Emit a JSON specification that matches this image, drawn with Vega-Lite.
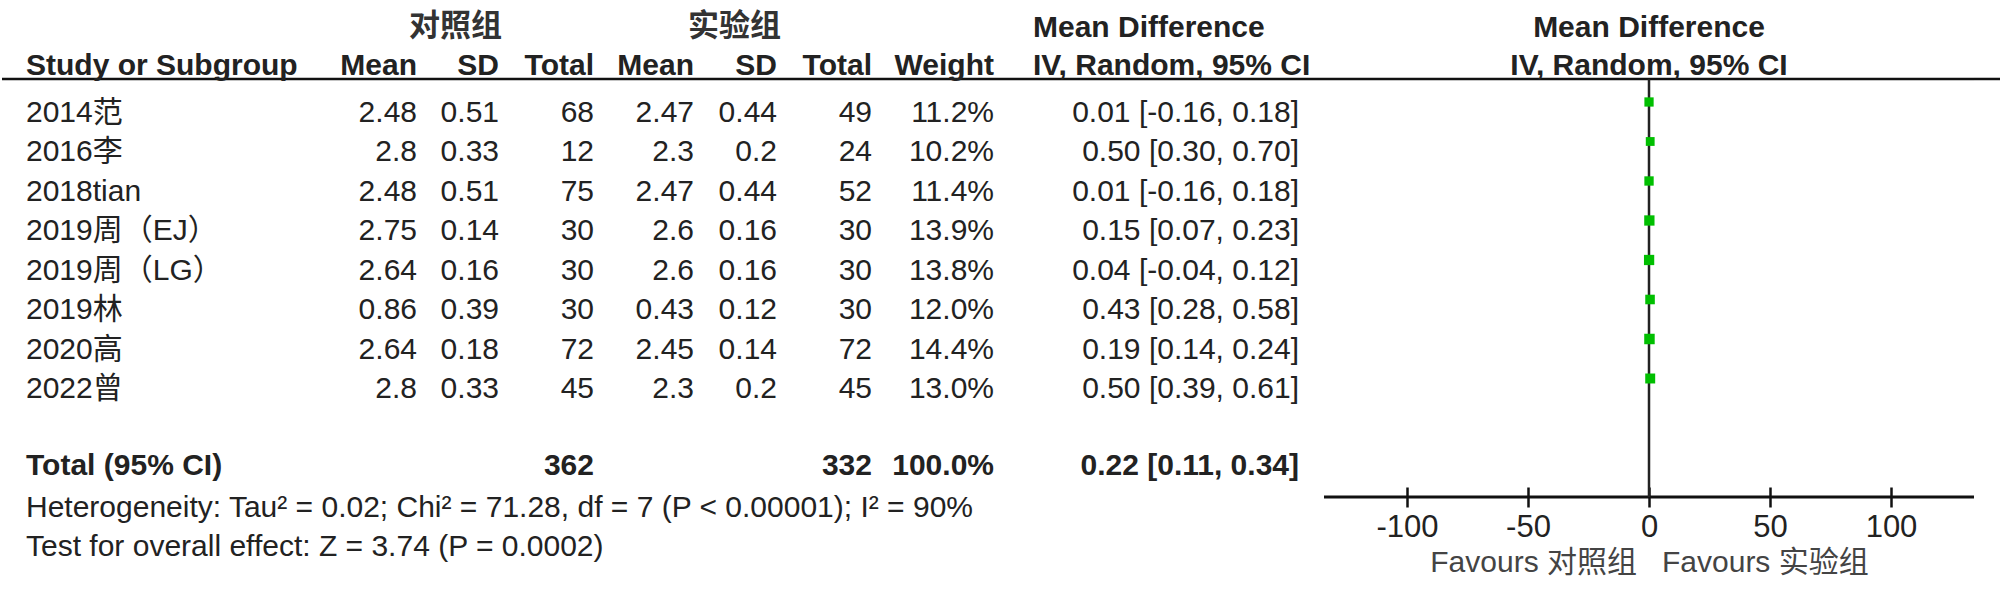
{
  "$schema": "https://vega.github.io/schema/vega-lite/v6.json",
  "padding": 0,
  "spacing": 0,
  "bounds": "flush",
  "background": "white",
  "resolve": {"scale": {"x": "independent", "y": "independent"}},
  "config": {
    "view": {"stroke": null},
    "text": {"font": "Liberation Sans, Noto Sans CJK SC", "fontSize": 30, "color": "#222", "baseline": "middle"}
  },
  "datasets": {
    "studies": [
      {"Study": "2014范", "M1": 2.48, "SD1": 0.51, "N1": 68, "M2": 2.47, "SD2": 0.44, "N2": 49, "W": 11.2, "Weight": "11.2%", "MD": 0.01, "lo": -0.16, "hi": 0.18, "CI": "0.01 [-0.16, 0.18]"},
      {"Study": "2016李", "M1": 2.8, "SD1": 0.33, "N1": 12, "M2": 2.3, "SD2": 0.2, "N2": 24, "W": 10.2, "Weight": "10.2%", "MD": 0.5, "lo": 0.3, "hi": 0.7, "CI": "0.50 [0.30, 0.70]"},
      {"Study": "2018tian", "M1": 2.48, "SD1": 0.51, "N1": 75, "M2": 2.47, "SD2": 0.44, "N2": 52, "W": 11.4, "Weight": "11.4%", "MD": 0.01, "lo": -0.16, "hi": 0.18, "CI": "0.01 [-0.16, 0.18]"},
      {"Study": "2019周（EJ）", "M1": 2.75, "SD1": 0.14, "N1": 30, "M2": 2.6, "SD2": 0.16, "N2": 30, "W": 13.9, "Weight": "13.9%", "MD": 0.15, "lo": 0.07, "hi": 0.23, "CI": "0.15 [0.07, 0.23]"},
      {"Study": "2019周（LG）", "M1": 2.64, "SD1": 0.16, "N1": 30, "M2": 2.6, "SD2": 0.16, "N2": 30, "W": 13.8, "Weight": "13.8%", "MD": 0.04, "lo": -0.04, "hi": 0.12, "CI": "0.04 [-0.04, 0.12]"},
      {"Study": "2019林", "M1": 0.86, "SD1": 0.39, "N1": 30, "M2": 0.43, "SD2": 0.12, "N2": 30, "W": 12.0, "Weight": "12.0%", "MD": 0.43, "lo": 0.28, "hi": 0.58, "CI": "0.43 [0.28, 0.58]"},
      {"Study": "2020高", "M1": 2.64, "SD1": 0.18, "N1": 72, "M2": 2.45, "SD2": 0.14, "N2": 72, "W": 14.4, "Weight": "14.4%", "MD": 0.19, "lo": 0.14, "hi": 0.24, "CI": "0.19 [0.14, 0.24]"},
      {"Study": "2022曾", "M1": 2.8, "SD1": 0.33, "N1": 45, "M2": 2.3, "SD2": 0.2, "N2": 45, "W": 13.0, "Weight": "13.0%", "MD": 0.5, "lo": 0.39, "hi": 0.61, "CI": "0.50 [0.39, 0.61]"}
    ],
    "total": [
      {"label": "Total (95% CI)", "N1": 362, "N2": 332, "Weight": "100.0%", "MD": 0.22, "lo": 0.11, "hi": 0.34, "CI": "0.22 [0.11, 0.34]"}
    ]
  },
  "hconcat": [
    {
      "width": 330, "height": 596,
      "layer": [
        {"data": {"values": [{}]}, "mark": {"type": "rule", "strokeWidth": 2.5, "color": "#111"},
         "encoding": {"y": {"datum": 0.2025, "type": "quantitative", "scale": {"domain": [-1.797, 13.291], "reverse": true, "nice": false, "zero": false}, "axis": null}}},
        {"data": {"values": [{"t": "Study or Subgroup"}]}, "mark": {"type": "text", "align": "left", "dx": 24, "dy": -5, "fontWeight": "bold"},
         "encoding": {"x": {"value": 0}, "y": {"datum": 0, "type": "quantitative", "scale": {"domain": [-1.797, 13.291], "reverse": true, "nice": false, "zero": false}, "axis": null}, "text": {"field": "t", "type": "nominal"}}},
        {"data": {"name": "studies"}, "transform": [{"window": [{"op": "row_number", "as": "row"}]}], "mark": {"type": "text", "align": "left", "dx": 24, "dy": 2.5},
         "encoding": {"x": {"value": 0}, "y": {"field": "row", "type": "quantitative", "scale": {"domain": [-1.797, 13.291], "reverse": true, "nice": false, "zero": false}, "axis": null}, "text": {"field": "Study", "type": "nominal"}}},
        {"data": {"name": "total"}, "mark": {"type": "text", "align": "left", "dx": 24, "fontWeight": "bold"},
         "encoding": {"x": {"value": 0}, "y": {"datum": 10, "type": "quantitative", "scale": {"domain": [-1.797, 13.291], "reverse": true, "nice": false, "zero": false}, "axis": null}, "text": {"field": "label", "type": "nominal"}}},
        {"data": {"values": [{"t": "Heterogeneity: Tau² = 0.02; Chi² = 71.28, df = 7 (P < 0.00001); I² = 90%"}]}, "mark": {"type": "text", "align": "left", "dx": 24, "dy": 2},
         "encoding": {"x": {"value": 0}, "y": {"datum": 11, "type": "quantitative", "scale": {"domain": [-1.797, 13.291], "reverse": true, "nice": false, "zero": false}, "axis": null}, "text": {"field": "t", "type": "nominal"}}},
        {"data": {"values": [{"t": "Test for overall effect: Z = 3.74 (P = 0.0002)"}]}, "mark": {"type": "text", "align": "left", "dx": 24, "dy": 1.5},
         "encoding": {"x": {"value": 0}, "y": {"datum": 12, "type": "quantitative", "scale": {"domain": [-1.797, 13.291], "reverse": true, "nice": false, "zero": false}, "axis": null}, "text": {"field": "t", "type": "nominal"}}}
      ]
    },
    {
      "width": 85, "height": 596,
      "layer": [
        {"data": {"values": [{}]}, "mark": {"type": "rule", "strokeWidth": 2.5, "color": "#111"},
         "encoding": {"y": {"datum": 0.2025, "type": "quantitative", "scale": {"domain": [-1.797, 13.291], "reverse": true, "nice": false, "zero": false}, "axis": null}}},
        {"data": {"values": [{"t": "Mean"}]}, "mark": {"type": "text", "align": "right", "dy": -5, "fontWeight": "bold"},
         "encoding": {"x": {"value": "width"}, "y": {"datum": 0, "type": "quantitative", "scale": {"domain": [-1.797, 13.291], "reverse": true, "nice": false, "zero": false}, "axis": null}, "text": {"field": "t", "type": "nominal"}}},
        {"data": {"name": "studies"}, "transform": [{"window": [{"op": "row_number", "as": "row"}]}], "mark": {"type": "text", "align": "right", "dy": 2.5},
         "encoding": {"x": {"value": "width"}, "y": {"field": "row", "type": "quantitative", "scale": {"domain": [-1.797, 13.291], "reverse": true, "nice": false, "zero": false}, "axis": null}, "text": {"field": "M1", "type": "nominal"}}}
      ]
    },
    {
      "width": 82, "height": 596,
      "layer": [
        {"data": {"values": [{}]}, "mark": {"type": "rule", "strokeWidth": 2.5, "color": "#111"},
         "encoding": {"y": {"datum": 0.2025, "type": "quantitative", "scale": {"domain": [-1.797, 13.291], "reverse": true, "nice": false, "zero": false}, "axis": null}}},
        {"data": {"values": [{"t": "对照组"}]}, "mark": {"type": "text", "align": "right", "dx": 3, "dy": -4, "fontWeight": "bold", "font": "Noto Sans CJK SC", "fontSize": 31, "color": "#333"},
         "encoding": {"x": {"value": "width"}, "y": {"datum": -1, "type": "quantitative", "scale": {"domain": [-1.797, 13.291], "reverse": true, "nice": false, "zero": false}, "axis": null}, "text": {"field": "t", "type": "nominal"}}},
        {"data": {"values": [{"t": "SD"}]}, "mark": {"type": "text", "align": "right", "dy": -5, "fontWeight": "bold"},
         "encoding": {"x": {"value": "width"}, "y": {"datum": 0, "type": "quantitative", "scale": {"domain": [-1.797, 13.291], "reverse": true, "nice": false, "zero": false}, "axis": null}, "text": {"field": "t", "type": "nominal"}}},
        {"data": {"name": "studies"}, "transform": [{"window": [{"op": "row_number", "as": "row"}]}], "mark": {"type": "text", "align": "right", "dy": 2.5},
         "encoding": {"x": {"value": "width"}, "y": {"field": "row", "type": "quantitative", "scale": {"domain": [-1.797, 13.291], "reverse": true, "nice": false, "zero": false}, "axis": null}, "text": {"field": "SD1", "type": "nominal"}}}
      ]
    },
    {
      "width": 95, "height": 596,
      "layer": [
        {"data": {"values": [{}]}, "mark": {"type": "rule", "strokeWidth": 2.5, "color": "#111"},
         "encoding": {"y": {"datum": 0.2025, "type": "quantitative", "scale": {"domain": [-1.797, 13.291], "reverse": true, "nice": false, "zero": false}, "axis": null}}},
        {"data": {"values": [{"t": "Total"}]}, "mark": {"type": "text", "align": "right", "dy": -5, "fontWeight": "bold"},
         "encoding": {"x": {"value": "width"}, "y": {"datum": 0, "type": "quantitative", "scale": {"domain": [-1.797, 13.291], "reverse": true, "nice": false, "zero": false}, "axis": null}, "text": {"field": "t", "type": "nominal"}}},
        {"data": {"name": "studies"}, "transform": [{"window": [{"op": "row_number", "as": "row"}]}], "mark": {"type": "text", "align": "right", "dy": 2.5},
         "encoding": {"x": {"value": "width"}, "y": {"field": "row", "type": "quantitative", "scale": {"domain": [-1.797, 13.291], "reverse": true, "nice": false, "zero": false}, "axis": null}, "text": {"field": "N1", "type": "nominal"}}},
        {"data": {"name": "total"}, "mark": {"type": "text", "align": "right", "fontWeight": "bold"},
         "encoding": {"x": {"value": "width"}, "y": {"datum": 10, "type": "quantitative", "scale": {"domain": [-1.797, 13.291], "reverse": true, "nice": false, "zero": false}, "axis": null}, "text": {"field": "N1", "type": "nominal"}}}
      ]
    },
    {
      "width": 100, "height": 596,
      "layer": [
        {"data": {"values": [{}]}, "mark": {"type": "rule", "strokeWidth": 2.5, "color": "#111"},
         "encoding": {"y": {"datum": 0.2025, "type": "quantitative", "scale": {"domain": [-1.797, 13.291], "reverse": true, "nice": false, "zero": false}, "axis": null}}},
        {"data": {"values": [{"t": "Mean"}]}, "mark": {"type": "text", "align": "right", "dy": -5, "fontWeight": "bold"},
         "encoding": {"x": {"value": "width"}, "y": {"datum": 0, "type": "quantitative", "scale": {"domain": [-1.797, 13.291], "reverse": true, "nice": false, "zero": false}, "axis": null}, "text": {"field": "t", "type": "nominal"}}},
        {"data": {"name": "studies"}, "transform": [{"window": [{"op": "row_number", "as": "row"}]}], "mark": {"type": "text", "align": "right", "dy": 2.5},
         "encoding": {"x": {"value": "width"}, "y": {"field": "row", "type": "quantitative", "scale": {"domain": [-1.797, 13.291], "reverse": true, "nice": false, "zero": false}, "axis": null}, "text": {"field": "M2", "type": "nominal"}}}
      ]
    },
    {
      "width": 83, "height": 596,
      "layer": [
        {"data": {"values": [{}]}, "mark": {"type": "rule", "strokeWidth": 2.5, "color": "#111"},
         "encoding": {"y": {"datum": 0.2025, "type": "quantitative", "scale": {"domain": [-1.797, 13.291], "reverse": true, "nice": false, "zero": false}, "axis": null}}},
        {"data": {"values": [{"t": "实验组"}]}, "mark": {"type": "text", "align": "right", "dx": 4, "dy": -4, "fontWeight": "bold", "font": "Noto Sans CJK SC", "fontSize": 31, "color": "#333"},
         "encoding": {"x": {"value": "width"}, "y": {"datum": -1, "type": "quantitative", "scale": {"domain": [-1.797, 13.291], "reverse": true, "nice": false, "zero": false}, "axis": null}, "text": {"field": "t", "type": "nominal"}}},
        {"data": {"values": [{"t": "SD"}]}, "mark": {"type": "text", "align": "right", "dy": -5, "fontWeight": "bold"},
         "encoding": {"x": {"value": "width"}, "y": {"datum": 0, "type": "quantitative", "scale": {"domain": [-1.797, 13.291], "reverse": true, "nice": false, "zero": false}, "axis": null}, "text": {"field": "t", "type": "nominal"}}},
        {"data": {"name": "studies"}, "transform": [{"window": [{"op": "row_number", "as": "row"}]}], "mark": {"type": "text", "align": "right", "dy": 2.5},
         "encoding": {"x": {"value": "width"}, "y": {"field": "row", "type": "quantitative", "scale": {"domain": [-1.797, 13.291], "reverse": true, "nice": false, "zero": false}, "axis": null}, "text": {"field": "SD2", "type": "nominal"}}}
      ]
    },
    {
      "width": 95, "height": 596,
      "layer": [
        {"data": {"values": [{}]}, "mark": {"type": "rule", "strokeWidth": 2.5, "color": "#111"},
         "encoding": {"y": {"datum": 0.2025, "type": "quantitative", "scale": {"domain": [-1.797, 13.291], "reverse": true, "nice": false, "zero": false}, "axis": null}}},
        {"data": {"values": [{"t": "Total"}]}, "mark": {"type": "text", "align": "right", "dy": -5, "fontWeight": "bold"},
         "encoding": {"x": {"value": "width"}, "y": {"datum": 0, "type": "quantitative", "scale": {"domain": [-1.797, 13.291], "reverse": true, "nice": false, "zero": false}, "axis": null}, "text": {"field": "t", "type": "nominal"}}},
        {"data": {"name": "studies"}, "transform": [{"window": [{"op": "row_number", "as": "row"}]}], "mark": {"type": "text", "align": "right", "dy": 2.5},
         "encoding": {"x": {"value": "width"}, "y": {"field": "row", "type": "quantitative", "scale": {"domain": [-1.797, 13.291], "reverse": true, "nice": false, "zero": false}, "axis": null}, "text": {"field": "N2", "type": "nominal"}}},
        {"data": {"name": "total"}, "mark": {"type": "text", "align": "right", "fontWeight": "bold"},
         "encoding": {"x": {"value": "width"}, "y": {"datum": 10, "type": "quantitative", "scale": {"domain": [-1.797, 13.291], "reverse": true, "nice": false, "zero": false}, "axis": null}, "text": {"field": "N2", "type": "nominal"}}}
      ]
    },
    {
      "width": 122, "height": 596,
      "layer": [
        {"data": {"values": [{}]}, "mark": {"type": "rule", "strokeWidth": 2.5, "color": "#111"},
         "encoding": {"y": {"datum": 0.2025, "type": "quantitative", "scale": {"domain": [-1.797, 13.291], "reverse": true, "nice": false, "zero": false}, "axis": null}}},
        {"data": {"values": [{"t": "Weight"}]}, "mark": {"type": "text", "align": "right", "dy": -5, "fontWeight": "bold"},
         "encoding": {"x": {"value": "width"}, "y": {"datum": 0, "type": "quantitative", "scale": {"domain": [-1.797, 13.291], "reverse": true, "nice": false, "zero": false}, "axis": null}, "text": {"field": "t", "type": "nominal"}}},
        {"data": {"name": "studies"}, "transform": [{"window": [{"op": "row_number", "as": "row"}]}], "mark": {"type": "text", "align": "right", "dy": 2.5},
         "encoding": {"x": {"value": "width"}, "y": {"field": "row", "type": "quantitative", "scale": {"domain": [-1.797, 13.291], "reverse": true, "nice": false, "zero": false}, "axis": null}, "text": {"field": "Weight", "type": "nominal"}}},
        {"data": {"name": "total"}, "mark": {"type": "text", "align": "right", "fontWeight": "bold"},
         "encoding": {"x": {"value": "width"}, "y": {"datum": 10, "type": "quantitative", "scale": {"domain": [-1.797, 13.291], "reverse": true, "nice": false, "zero": false}, "axis": null}, "text": {"field": "Weight", "type": "nominal"}}}
      ]
    },
    {
      "width": 330, "height": 596,
      "layer": [
        {"data": {"values": [{}]}, "mark": {"type": "rule", "strokeWidth": 2.5, "color": "#111"},
         "encoding": {"y": {"datum": 0.2025, "type": "quantitative", "scale": {"domain": [-1.797, 13.291], "reverse": true, "nice": false, "zero": false}, "axis": null}}},
        {"data": {"values": [{"t": "Mean Difference"}]}, "mark": {"type": "text", "align": "left", "dx": 39, "dy": -3.5, "fontWeight": "bold"},
         "encoding": {"x": {"value": 0}, "y": {"datum": -1, "type": "quantitative", "scale": {"domain": [-1.797, 13.291], "reverse": true, "nice": false, "zero": false}, "axis": null}, "text": {"field": "t", "type": "nominal"}}},
        {"data": {"values": [{"t": "IV, Random, 95% CI"}]}, "mark": {"type": "text", "align": "left", "dx": 39, "dy": -5, "fontWeight": "bold"},
         "encoding": {"x": {"value": 0}, "y": {"datum": 0, "type": "quantitative", "scale": {"domain": [-1.797, 13.291], "reverse": true, "nice": false, "zero": false}, "axis": null}, "text": {"field": "t", "type": "nominal"}}},
        {"data": {"name": "studies"}, "transform": [{"window": [{"op": "row_number", "as": "row"}]}], "mark": {"type": "text", "align": "right", "dx": -25, "dy": 2.5},
         "encoding": {"x": {"value": "width"}, "y": {"field": "row", "type": "quantitative", "scale": {"domain": [-1.797, 13.291], "reverse": true, "nice": false, "zero": false}, "axis": null}, "text": {"field": "CI", "type": "nominal"}}},
        {"data": {"name": "total"}, "mark": {"type": "text", "align": "right", "dx": -25, "fontWeight": "bold"},
         "encoding": {"x": {"value": "width"}, "y": {"datum": 10, "type": "quantitative", "scale": {"domain": [-1.797, 13.291], "reverse": true, "nice": false, "zero": false}, "axis": null}, "text": {"field": "CI", "type": "nominal"}}}
      ]
    },
    {
      "width": 650, "height": 497,
      "layer": [
        {"data": {"values": [{}]}, "mark": {"type": "rule", "strokeWidth": 2.5, "color": "#111"},
         "encoding": {"y": {"datum": 0.2025, "type": "quantitative", "scale": {"domain": [-1.797, 10.785], "reverse": true, "nice": false, "zero": false}, "axis": null}}},
        {"data": {"values": [{}]}, "mark": {"type": "rule", "strokeWidth": 3, "color": "#111"},
         "encoding": {"y": {"datum": 10.785, "type": "quantitative", "scale": {"domain": [-1.797, 10.785], "reverse": true, "nice": false, "zero": false}, "axis": null}}},
        {"data": {"values": [{"t": "Mean Difference"}]}, "mark": {"type": "text", "align": "center", "dy": -3.5, "fontWeight": "bold"},
         "encoding": {"x": {"datum": 0, "type": "quantitative", "scale": {"domain": [-134.3, 134.3], "nice": false, "zero": false}, "axis": {"values": [-100, -50, 0, 50, 100], "labelExpr": "'' + datum.value", "domain": false, "offset": -10, "tickSize": 20, "tickWidth": 2.5, "tickColor": "#111", "grid": false, "labelFont": "Liberation Sans", "labelFontSize": 31, "labelColor": "#222", "labelPadding": 5, "labelFlush": false, "labelOverlap": false, "title": "Favours 对照组\u00a0\u00a0\u00a0Favours 实验组", "titleFont": "Liberation Sans, Noto Sans CJK SC", "titleFontSize": 30, "titleFontWeight": "normal", "titleColor": "#444", "titlePadding": 5}},
                      "y": {"datum": -1, "type": "quantitative", "scale": {"domain": [-1.797, 10.785], "reverse": true, "nice": false, "zero": false}, "axis": null}, "text": {"field": "t", "type": "nominal"}}},
        {"data": {"values": [{"t": "IV, Random, 95% CI"}]}, "mark": {"type": "text", "align": "center", "dy": -5, "fontWeight": "bold"},
         "encoding": {"x": {"datum": 0, "type": "quantitative"},
                      "y": {"datum": 0, "type": "quantitative", "scale": {"domain": [-1.797, 10.785], "reverse": true, "nice": false, "zero": false}, "axis": null}, "text": {"field": "t", "type": "nominal"}}},
        {"data": {"values": [{}]}, "mark": {"type": "rule", "strokeWidth": 2.5, "color": "#222"},
         "encoding": {"x": {"datum": 0, "type": "quantitative"},
                      "y": {"datum": 0.2025, "type": "quantitative", "scale": {"domain": [-1.797, 10.785], "reverse": true, "nice": false, "zero": false}, "axis": null},
                      "y2": {"datum": 10.785}}},
        {"data": {"name": "studies"}, "transform": [{"window": [{"op": "row_number", "as": "row"}]}], "mark": {"type": "rule", "strokeWidth": 1.5, "color": "#000", "yOffset": -8.5},
         "encoding": {"x": {"field": "lo", "type": "quantitative"}, "x2": {"field": "hi"},
                      "y": {"field": "row", "type": "quantitative", "scale": {"domain": [-1.797, 10.785], "reverse": true, "nice": false, "zero": false}, "axis": null}}},
        {"data": {"name": "studies"}, "transform": [{"window": [{"op": "row_number", "as": "row"}]}], "mark": {"type": "square", "filled": true, "opacity": 1, "color": "#00bf00", "yOffset": -8.5},
         "encoding": {"x": {"field": "MD", "type": "quantitative"},
                      "y": {"field": "row", "type": "quantitative", "scale": {"domain": [-1.797, 10.785], "reverse": true, "nice": false, "zero": false}, "axis": null},
                      "size": {"field": "W", "type": "quantitative", "scale": {"domain": [0, 14.4], "range": [0, 110]}, "legend": null}}}
      ]
    },
    {
      "width": 28, "height": 596,
      "layer": [
        {"data": {"values": [{}]}, "mark": {"type": "rule", "strokeWidth": 2.5, "color": "#111"},
         "encoding": {"y": {"datum": 0.2025, "type": "quantitative", "scale": {"domain": [-1.797, 13.291], "reverse": true, "nice": false, "zero": false}, "axis": null}}}
      ]
    }
  ]
}
